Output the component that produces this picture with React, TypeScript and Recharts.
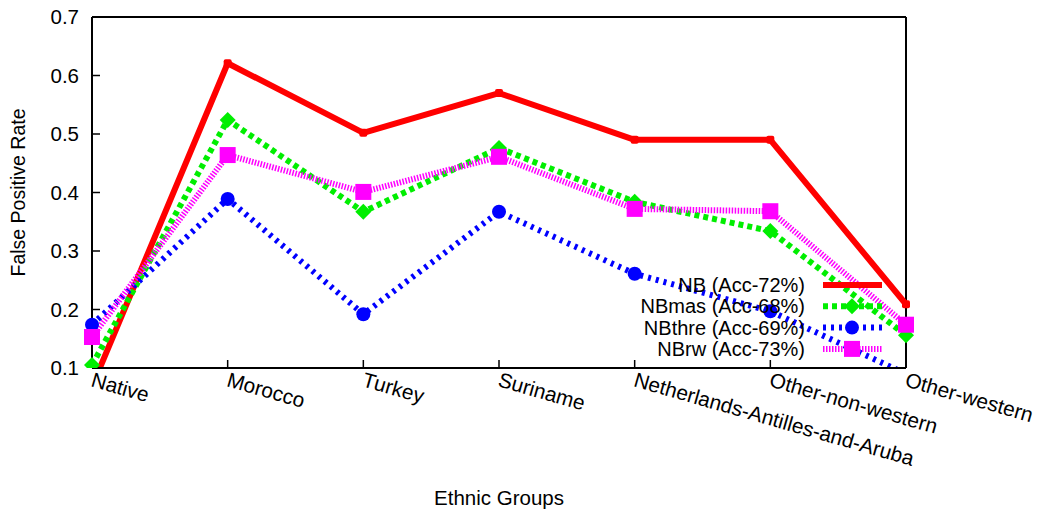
import React from 'react';
import { LineChart, Line, XAxis, YAxis, ReferenceLine, Label } from 'recharts';

const groups = ['Native', 'Morocco', 'Turkey', 'Suriname', 'Netherlands-Antilles-and-Aruba', 'Other-non-western', 'Other-western'];
const nb = [0.068, 0.621, 0.502, 0.570, 0.490, 0.490, 0.209];
const nbmas = [0.105, 0.524, 0.367, 0.476, 0.384, 0.334, 0.156];
const nbthre = [0.174, 0.389, 0.192, 0.367, 0.261, 0.197, 0.09];
const nbrw = [0.153, 0.464, 0.401, 0.461, 0.372, 0.368, 0.174];
const yTicks = [0.1, 0.2, 0.3, 0.4, 0.5, 0.6, 0.7];

const data = groups.map((g, i) => ({ group: g, nb: nb[i], nbmas: nbmas[i], nbthre: nbthre[i], nbrw: nbrw[i] }));

const FONT = 'Liberation Sans, Arial, sans-serif';

type Shape = 'small' | 'diamond' | 'circle' | 'square';

const series: { key: string; name: string; color: string; dash?: string; shape: Shape }[] = [
  { key: 'nb', name: 'NB (Acc-72%)', color: '#ff0000', shape: 'small' },
  { key: 'nbmas', name: 'NBmas (Acc-68%)', color: '#00ee00', dash: '5 4', shape: 'diamond' },
  { key: 'nbthre', name: 'NBthre (Acc-69%)', color: '#0000ff', dash: '3 5', shape: 'circle' },
  { key: 'nbrw', name: 'NBrw (Acc-73%)', color: '#ff00ff', dash: '1.5 1.5', shape: 'square' },
];

const marker = (shape: Shape, cx: number, cy: number, color: string, key?: string) => {
  if (shape === 'small') return <rect key={key} x={cx - 4} y={cy - 4} width={8} height={8} rx={2} fill={color} />;
  if (shape === 'diamond')
    return <path key={key} d={`M${cx},${cy - 8}L${cx + 8},${cy}L${cx},${cy + 8}L${cx - 8},${cy}Z`} fill={color} />;
  if (shape === 'circle') return <circle key={key} cx={cx} cy={cy} r={7} fill={color} />;
  return <rect key={key} x={cx - 8} y={cy - 8} width={16} height={16} fill={color} />;
};

const makeDot = (shape: Shape, color: string) => (props: any) => {
  const { cx, cy, value, index } = props;
  if (value < 0.1 || value > 0.7 || cx == null) return <g key={index} />;
  return marker(shape, cx, cy, color, `d${index}`);
};

const XTick = (props: any) => {
  const { x, y, payload } = props;
  const tx = x - 2;
  const ty = y + 24;
  return (
    <text x={tx} y={ty} transform={`rotate(16 ${tx} ${ty})`} textAnchor="start" fontSize={20.8} fontFamily={FONT} fill="#000">
      {payload.value}
    </text>
  );
};

const YLabel = (props: any) => {
  const { viewBox } = props;
  const cx = 18;
  const cy = viewBox.y + viewBox.height / 2;
  return (
    <text x={cx} y={cy} transform={`rotate(-90 ${cx} ${cy})`} textAnchor="middle" dominantBaseline="central" fontSize={19.5} fontFamily={FONT} fill="#000">
      False Positive Rate
    </text>
  );
};

const LegendBox = () => (
  <svg width={300} height={100} style={{ display: 'block' }}>
    {series.map((s, i) => {
      const y = 10 + i * 21.3;
      return (
        <g key={s.key}>
          <text x={200} y={y + 7} textAnchor="end" fontSize={20} fontFamily={FONT} fill="#000">
            {s.name}
          </text>
          <line x1={218} x2={277} y1={y} y2={y} stroke={s.color} strokeWidth={6} strokeDasharray={s.dash} />
          {s.shape !== 'small' && marker(s.shape, 247, y, s.color)}
        </g>
      );
    })}
  </svg>
);

export default function App() {
  return (
    <div style={{ position: 'absolute', left: 0, top: 0, width: 1041, height: 514, background: '#fff' }}>
      <LineChart width={1041} height={514} data={data} margin={{ top: 17, right: 135, bottom: 0, left: 0 }}>
        <XAxis
          dataKey="group"
          height={146}
          tick={<XTick />}
          tickSize={-8}
          interval={0}
          axisLine={{ stroke: '#000', strokeWidth: 2 }}
          tickLine={{ stroke: '#000', strokeWidth: 1.5 }}
        >
          <Label value="Ethnic Groups" position="insideBottom" offset={9} fontSize={20.5} fontFamily={FONT} fill="#000" />
        </XAxis>
        <YAxis
          width={92}
          domain={[0.1, 0.7]}
          ticks={yTicks}
          allowDataOverflow
          tickSize={-8}
          tickMargin={21}
          tickFormatter={(v: number) => v.toFixed(1)}
          tick={{ fontSize: 20.5, fontFamily: FONT, fill: '#000' }}
          axisLine={{ stroke: '#000', strokeWidth: 2 }}
          tickLine={{ stroke: '#000', strokeWidth: 1.5 }}
        >
          <Label content={<YLabel />} />
        </YAxis>
        <ReferenceLine y={0.7} stroke="#000" strokeWidth={2} />
        <ReferenceLine x="Other-western" stroke="#000" strokeWidth={2} />
        {series.map((s) => (
          <Line
            key={s.key}
            dataKey={s.key}
            name={s.name}
            stroke={s.color}
            strokeWidth={6}
            strokeDasharray={s.dash}
            strokeLinejoin="round"
            dot={makeDot(s.shape, s.color)}
            activeDot={false}
            isAnimationActive={false}
          />
        ))}
      </LineChart>
      <div style={{ position: 'absolute', left: 605, top: 275 }}>
        <LegendBox />
      </div>
    </div>
  );
}
